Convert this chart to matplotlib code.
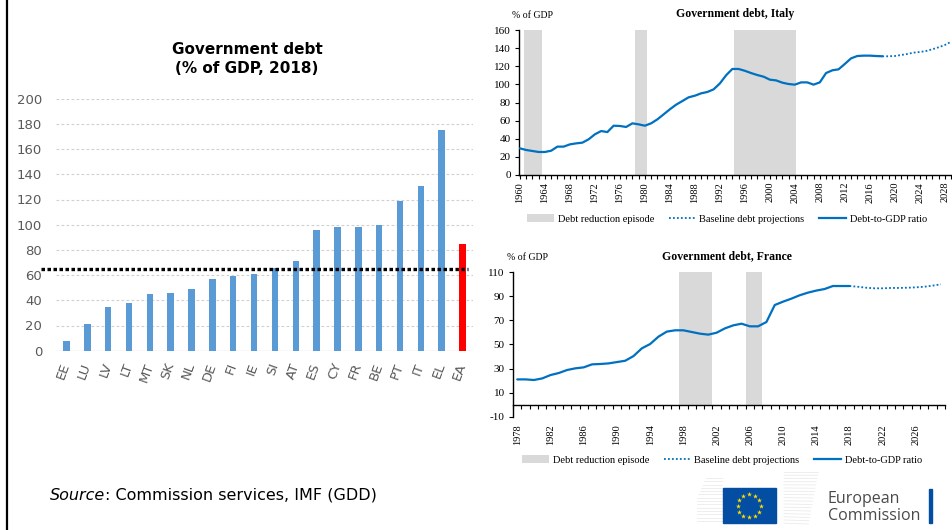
import matplotlib
matplotlib.use("Agg")
import matplotlib.pyplot as plt
from matplotlib.patches import Patch, Rectangle
from matplotlib.lines import Line2D
import numpy as np

# ---------------- data ----------------
countries = ['EE', 'LU', 'LV', 'LT', 'MT', 'SK', 'NL', 'DE', 'FI', 'IE',
             'SI', 'AT', 'ES', 'CY', 'FR', 'BE', 'PT', 'IT', 'EL', 'EA']
debt_2018 = [8, 21, 35, 38, 45, 46, 49, 57, 59, 61,
             66, 71, 96, 98, 98, 100, 119, 131, 175, 85]
reference_level = 65

italy_years = list(range(1960, 2019))
italy_debt = [29.4, 27.6, 26.5, 25.4, 25.4, 26.8, 31.3, 31.3, 33.8, 34.9,
              35.7, 39.4, 44.9, 48.5, 47.4, 54.4, 54.1, 53.0, 57.0, 55.9,
              54.4, 57.0, 61.4, 66.9, 72.5, 77.6, 81.6, 85.7, 87.5, 90.1,
              91.6, 94.5, 101.0, 110.0, 117.0, 117.0, 115.0, 112.5, 110.3, 108.5,
              105.2, 104.4, 101.9, 100.4, 99.7, 102.2, 102.2, 99.7, 102.2, 112.5,
              115.5, 116.6, 122.5, 128.7, 131.3, 131.7, 131.7, 131.3, 131.0]
italy_proj_years = list(range(2018, 2030))
italy_proj = [131.0, 131.0, 131.3, 132.4, 133.5, 135.0, 135.7, 136.8, 138.7, 140.9, 143.4, 147.0]
italy_episodes = [(1960.6, 1963.5), (1978.4, 1980.4), (1994.2, 2004.2)]

france_years = list(range(1978, 2019))
france_debt = [21.0, 21.0, 20.5, 21.8, 24.6, 26.3, 28.8, 30.2, 31.0, 33.5,
               33.8, 34.3, 35.4, 36.5, 40.4, 46.8, 50.4, 56.5, 60.7, 61.8,
               61.8, 60.4, 59.0, 58.2, 59.8, 63.4, 65.9, 67.3, 65.1, 65.1,
               68.7, 82.8, 85.6, 88.1, 90.9, 93.1, 94.8, 96.1, 98.6, 98.6, 98.6]
france_proj_years = list(range(2018, 2030))
france_proj = [98.6, 98.0, 97.2, 96.7, 96.7, 97.0, 97.0, 97.2, 97.5, 98.0, 98.9, 100.0]
france_episodes = [(1997.5, 2001.5), (2005.5, 2007.5)]

legend_labels = ['Debt reduction episode', 'Baseline debt projections', 'Debt-to-GDP ratio']

# ---------------- style ----------------
W, H = 953, 530
BAR = '#5B9BD5'
RED = '#FF0000'
LINE = '#0070C0'
SHADE = '#D9D9D9'
GRAYTXT = '#595959'
SERIF = ['Liberation Serif', 'DejaVu Serif']
SANS = ['DejaVu Sans']

fig = plt.figure(figsize=(W / 100, H / 100), dpi=100)
fig.patch.set_facecolor('white')


def ax_px(l, t, r, b):
    return fig.add_axes([l / W, 1 - b / H, (r - l) / W, (b - t) / H])


def fx(x):
    return x / W


def fy(y):
    return 1 - y / H


# left vertical border line
fig.add_artist(Line2D([fx(7), fx(7)], [0, 1], color='black', lw=1.6))

# ---------------- bar chart ----------------
ax = ax_px(56, 98.7, 473, 350.7)
x = np.arange(len(countries))
colors = [BAR] * (len(countries) - 1) + [RED]
ax.bar(x, debt_2018, width=0.31, color=colors, zorder=3)
ax.set_xlim(-0.5, len(countries) - 0.5)
ax.set_ylim(0, 200)
ax.set_yticks(range(0, 201, 20))
for v in range(20, 201, 20):
    ax.axhline(v, color='#D0D0D0', lw=0.8, ls=(0, (2.5, 2)), zorder=1)
ax.axhline(0, color='#D9D9D9', lw=1.0, zorder=2)
for s in ax.spines.values():
    s.set_visible(False)
ax.tick_params(axis='y', length=0, pad=10, labelsize=9.5, labelcolor=GRAYTXT)
ax.set_yticklabels([str(v) for v in range(0, 201, 20)], family=SANS)
ax.set_xticks(x)
ax.set_xticklabels(countries, rotation=70, ha='right', va='center',
                   rotation_mode='anchor', family=SANS, fontsize=9.5, color=GRAYTXT)
ax.tick_params(axis='x', length=0, pad=9)
ax.plot([-1.23, len(countries) - 0.74], [reference_level, reference_level],
        color='black', lw=2.4, ls=(0, (1.05, 0.75)), clip_on=False, zorder=4)

fig.text(fx(247), fy(59), 'Government debt\n(% of GDP, 2018)', ha='center', va='center',
         fontsize=11, fontweight='bold', family=SANS, linespacing=1.3)

# Source line
t1 = fig.text(fx(50), fy(495), 'Source', ha='left', va='center', fontsize=11.5,
              style='italic', family=SANS)
fig.canvas.draw()
r = fig.canvas.get_renderer()
bb = t1.get_window_extent(renderer=r)
fig.text(bb.x1 / W, fy(495), ': Commission services, IMF (GDD)', ha='left', va='center',
         fontsize=11.5, family=SANS)


# ---------------- line charts ----------------
def line_panel(axl, years, vals, pyears, pvals, episodes, ylim, yticks):
    yfrac = (0 - ylim[0]) / (ylim[1] - ylim[0])
    for (a, b) in episodes:
        axl.axvspan(a, b, ymin=yfrac, ymax=1, color=SHADE, lw=0, zorder=1)
    axl.plot(pyears, pvals, color=LINE, lw=1.3, ls=(0, (1, 1.2)), zorder=2)
    axl.plot(years, vals, color=LINE, lw=1.6, zorder=3, solid_capstyle='round')
    axl.set_ylim(*ylim)
    axl.set_yticks(yticks)
    axl.set_yticklabels([str(v) for v in yticks], family=SERIF, fontsize=8)
    for s in ['top', 'right']:
        axl.spines[s].set_visible(False)
    axl.spines['left'].set_linewidth(1.0)
    axl.spines['bottom'].set_linewidth(1.0)
    axl.tick_params(axis='y', direction='out', length=3, width=0.8, pad=3)


# Italy
axi = ax_px(519.3, 30, 951, 175)
line_panel(axi, italy_years, italy_debt, italy_proj_years, italy_proj, italy_episodes,
           (0, 160), list(range(0, 161, 20)))
axi.set_xlim(1959.9, 2029)
axi.set_xticks(list(range(1960, 2029, 4)))
axi.set_xticks(list(range(1960, 2030)), minor=True)
axi.set_xticklabels([str(v) for v in range(1960, 2029, 4)], rotation=90,
                    family=SERIF, fontsize=7.5)
axi.tick_params(axis='x', which='both', direction='out', length=3, width=0.8, pad=2)
fig.text(fx(512), fy(15), '% of GDP', ha='left', va='center', family=SERIF, fontsize=7)
fig.text(fx(735), fy(14), 'Government debt, Italy', ha='center', va='center',
         family=SERIF, fontsize=8.5, fontweight='bold')

# France
axf = ax_px(513.1, 272.3, 945, 416.7)
line_panel(axf, france_years, france_debt, france_proj_years, france_proj, france_episodes,
           (-10, 110), list(range(-10, 111, 20)))
axf.set_xlim(1977.5, 2029.5)
axf.spines['bottom'].set_position(('data', 0))
axf.set_xticks(list(range(1978, 2027, 4)))
axf.set_xticks([v + 0.5 for v in range(1977, 2030)], minor=True)
axf.set_xticklabels([str(v) for v in range(1978, 2027, 4)], rotation=90,
                    family=SERIF, fontsize=7.5)
axf.tick_params(axis='x', which='major', length=0, pad=14)
axf.tick_params(axis='x', which='minor', direction='out', length=3, width=0.8)
fig.text(fx(507), fy(257), '% of GDP', ha='left', va='center', family=SERIF, fontsize=7)
fig.text(fx(727), fy(256), 'Government debt, France', ha='center', va='center',
         family=SERIF, fontsize=8.5, fontweight='bold')


def make_legend(axl, xpos, ypos):
    handles = [Patch(facecolor=SHADE, edgecolor='none'),
               Line2D([], [], color=LINE, lw=1.3, ls=(0, (1, 1.2))),
               Line2D([], [], color=LINE, lw=1.6)]
    leg = axl.legend(handles, legend_labels, ncol=3, loc='center left',
                     bbox_to_anchor=(fx(xpos), fy(ypos)), bbox_transform=fig.transFigure,
                     frameon=False, prop={'family': SERIF, 'size': 7.5},
                     handlelength=2.6, handleheight=0.8, handletextpad=0.35,
                     columnspacing=1.4, borderpad=0, borderaxespad=0)
    return leg


make_legend(axi, 527, 219)
make_legend(axf, 522, 460)

# ---------------- logo ----------------
axl = ax_px(680, 465, 953, 530)
axl.set_xlim(680, 953)
axl.set_ylim(530, 465)
axl.axis('off')
# faint building lines
for k in range(14):
    yy = 478 + k * 3.3
    axl.plot([697 + max(0, 6 - k) * 1.5, 722], [yy, yy], color='#EBEBEB', lw=0.6)
for k in range(17):
    yy = 472 + k * 3.2
    axl.plot([784, 818 - k * 0.6], [yy, yy + 0.5 * k * 0.1], color='#EBEBEB', lw=0.6)
axl.add_patch(Rectangle((722.7, 488.3), 53.3, 35, color='#034EA2', zorder=3))
ang = np.linspace(0, 2 * np.pi, 13)[:-1]
axl.scatter(749.3 + 11.7 * np.cos(ang), 505.8 + 11.7 * np.sin(ang), marker='*',
            s=14, color='#FFDD00', lw=0, zorder=4)
axl.text(828, 499, 'European', ha='left', va='center', fontsize=11.5,
         family=['Open Sans', 'DejaVu Sans'], color='#4A4A4A')
axl.text(828, 516.5, 'Commission', ha='left', va='center', fontsize=11.5,
         family=['Open Sans', 'DejaVu Sans'], color='#4A4A4A')
axl.add_patch(Rectangle((929, 489.5), 2.6, 34, color='#034EA2', zorder=3))

fig.savefig('out.png', dpi=100, facecolor='white')
